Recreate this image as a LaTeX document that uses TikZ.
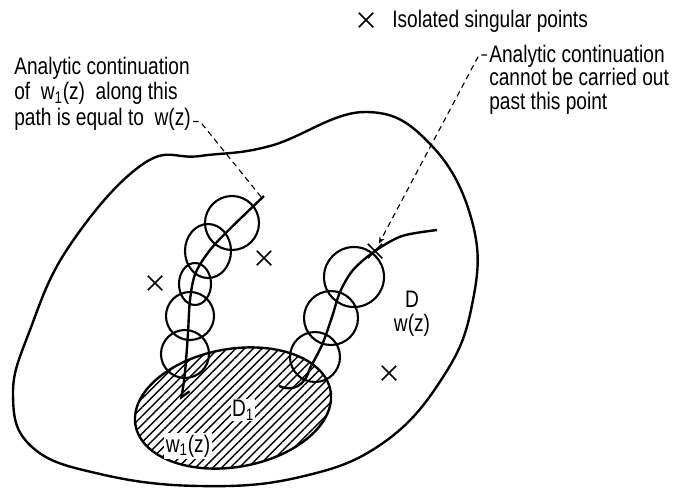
\documentclass[tikz,border=0pt]{standalone}
\usepackage{fontspec}
\setmainfont{Liberation Sans}[FakeStretch=0.8]
\usetikzlibrary{shapes.misc, arrows.meta, patterns.meta, calc}

\begin{document}
\begin{tikzpicture}[x=0.025cm, y=-0.025cm,
  sing/.style={draw, cross out, line width=1.2pt, minimum size=0.32cm, inner sep=0pt},
  disk/.style={line width=1.5pt},
  curve/.style={line width=1.7pt},
  leader/.style={line width=0.8pt, dash pattern=on 4pt off 3pt},
  note/.style={font=\fontsize{17}{16.5}\selectfont, align=left, inner sep=0pt}]
\useasboundingbox (0,0) rectangle (676,488);
\draw[curve] plot[smooth cycle, tension=0.7] coordinates {(143,164) (200,156) (270,146) (365,112) (432,146) (473,225) (472,305) (443,377) (383,443) (300,477) (200,486) (100,474) (32,447) (13,395) (30,330) (70,245)};
\draw[curve, pattern={Lines[angle=45, distance=4.4pt, line width=1pt]}] (233,408) ellipse [x radius=99, y radius=59, rotate=10];
\node[note, fill=white, inner sep=1pt] (d1lbl) at (243,410) {D\textsubscript{1}};
\node[note, fill=white, inner sep=1pt] (w1lbl) at (188,446) {w\textsubscript{1}(z)};
\node[note, align=center, font=\fontsize{17}{17}\selectfont] (dlbl) at (412,314) {D\\w(z)};
\draw[disk] (232,223) circle [radius=27];
\draw[disk] (208,251) ellipse [x radius=23, y radius=27];
\draw[disk] (195,284) ellipse [x radius=16, y radius=21];
\draw[disk] (190,316) circle [radius=24];
\draw[disk] (185,354) circle [radius=24];
\draw[disk] (354,277) circle [radius=30];
\draw[disk] (331,318) circle [radius=27];
\draw[disk] (315,357) circle [radius=25];
\draw[curve, {Straight Barb[harpoon, length=5pt]}-] plot[smooth] coordinates {(181,400) (185,372) (188,333) (190,300) (196,272) (216,243) (264,196)};
\draw[curve] plot[smooth] coordinates {(437,230) (402,236) (375,251) (353,270) (340,292) (332,317) (322,345) (310,368)} .. controls (305,386) and (293,392) .. (279,386);
\node[sing] (sing1) at (155,283) {};
\node[sing] (sing2) at (264,258) {};
\node[sing] (sing3) at (389,373) {};
\node[sing] (sing4) at (375,251) {};
\node[sing] (key) at (366,20) {};
\node[note, anchor=west] (keytext) at (392,21) {Isolated singular points};
\node[note, anchor=north west, font=\fontsize{17}{18}\selectfont] (leftnote) at (14,57) {Analytic continuation\\of~ w\textsubscript{1}(z)~ along this\\path is equal to~ w(z)};
\node[note, anchor=north west] (rightnote) at (489,45) {Analytic continuation\\cannot be carried out\\past this point};
\coordinate (lend) at (262,198);
\draw[leader] ($(leftnote.south east)+(2,-9)$) -- ++(7,0) -- (lend);
\draw[leader, -{Stealth[length=5pt, width=4pt]}] ($(rightnote.north west)+(-2,10)$) -- ++(-8,0) -- (sing4);
\end{tikzpicture}
\end{document}
